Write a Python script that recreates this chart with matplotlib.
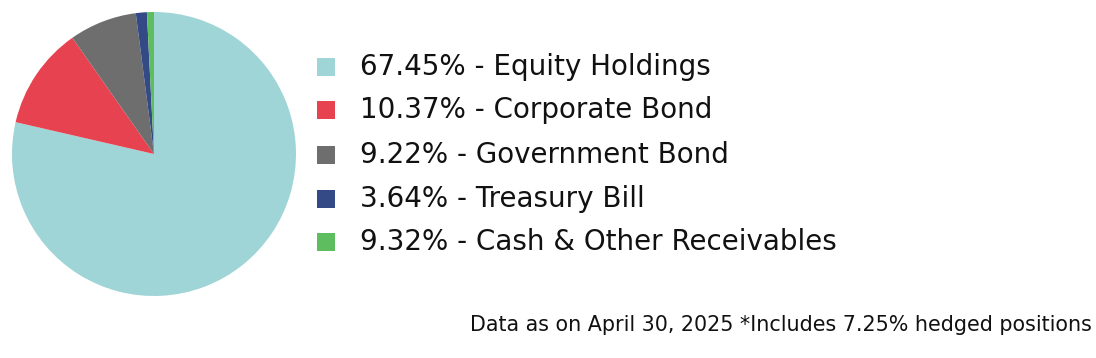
import matplotlib
matplotlib.use("Agg")
import matplotlib.pyplot as plt
from matplotlib.patches import Rectangle

# slice sizes as drawn in the picture (in %)
slice_share = [78.6, 11.65, 7.7, 1.25, 0.8]
# labels as printed in the legend
label_pct = ["67.45%", "10.37%", "9.22%", "3.64%", "9.32%"]
categories = ["Equity Holdings", "Corporate Bond", "Government Bond",
              "Treasury Bill", "Cash & Other Receivables"]
colors = ["#A0D5D7", "#E7424F", "#6E6E6E", "#344A86", "#5EBD5E"]
footnote = "Data as on April 30, 2025 *Includes 7.25% hedged positions"

W, H = 1096, 358
fig = plt.figure(figsize=(W / 100, H / 100), dpi=100)

# pie, centre ~ (154, 154) px, radius ~142 px
cx, cy, r = 154, 154, 142
ax = fig.add_axes([(cx - r) / W, (H - cy - r) / H, 2 * r / W, 2 * r / H])
ax.pie(slice_share, colors=colors, startangle=90, counterclock=False,
       radius=1, wedgeprops=dict(linewidth=0))
ax.set_xlim(-1, 1)
ax.set_ylim(-1, 1)
ax.set_aspect("equal")
ax.axis("off")

# legend
row_y = [67, 110, 155, 199, 242]
sq = 18
for y, pct, name, c in zip(row_y, label_pct, categories, colors):
    fig.patches.append(Rectangle((317 / W, (H - y - sq / 2) / H), sq / W, sq / H,
                                 facecolor=c, edgecolor="none",
                                 transform=fig.transFigure))
    fig.text(360 / W, (H - y) / H, f"{pct} - {name}", fontsize=20,
             family="DejaVu Sans", color="#111111", va="center", ha="left")

fig.text(1092 / W, (H - 325) / H, footnote, fontsize=14.9, family="DejaVu Sans",
         color="#111111", va="center", ha="right")

fig.savefig("out.png", dpi=100)
